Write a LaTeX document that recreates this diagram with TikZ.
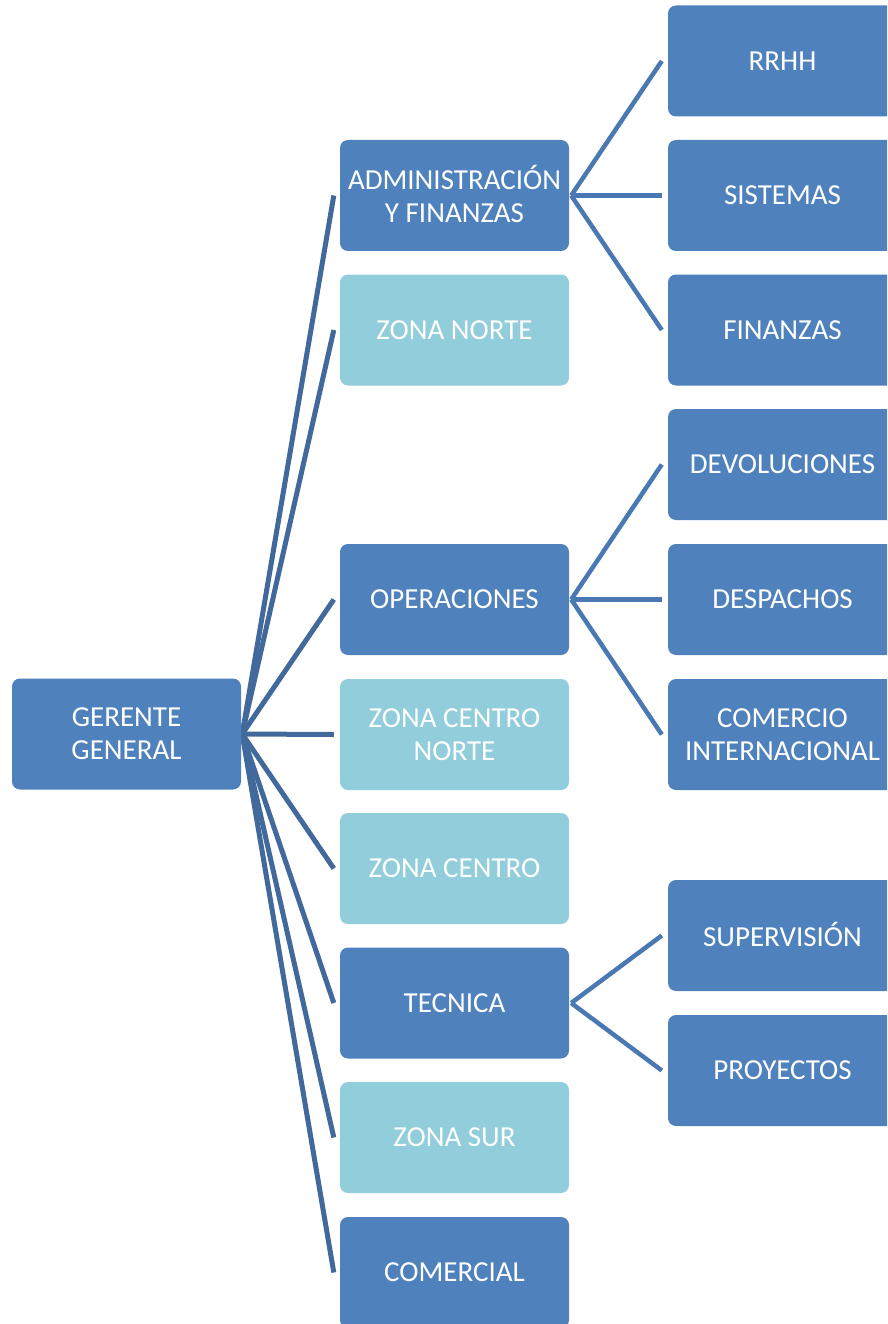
\documentclass[tikz,border=0pt]{standalone}
\usepackage{fontspec}
\setmainfont{Carlito}
\usetikzlibrary{calc,backgrounds}
\definecolor{boxdark}{HTML}{4F81BD}
\definecolor{boxlight}{HTML}{92CDDC}
\definecolor{lineleft}{HTML}{41699C}
\definecolor{lineright}{HTML}{4A78B2}
\tikzset{
  unitbox/.style={minimum width=229pt, minimum height=111pt, rounded corners=8pt,
    text=white, align=center, inner sep=0pt, font=\fontsize{29}{33}\selectfont},
  darkbox/.style={unitbox, fill=boxdark},
  lightbox/.style={unitbox, fill=boxlight},
  leftline/.style={draw=lineleft, line width=5pt},
  rightline/.style={draw=lineright, line width=4.5pt}
}
\begin{document}
\begin{tikzpicture}[x=1pt,y=-1pt]
\clip (0,0) rectangle (887,1324);
\useasboundingbox (0,0) rectangle (887,1324);
% root
\node[darkbox] (root) at (126.5,734) {GERENTE\\GENERAL};
% middle column
\node[darkbox]  (adm) at (454.5,195.5) {\raisebox{3pt}{ADMINISTRACIÓN}\\\raisebox{3pt}{Y FINANZAS}};
\node[lightbox] (zn)  at (454.5,330) {ZONA NORTE};
\node[darkbox]  (ops) at (454.5,599.5) {OPERACIONES};
\node[lightbox] (zcn) at (454.5,734.5) {ZONA CENTRO\\NORTE};
\node[lightbox] (zc)  at (454.5,868.5) {ZONA CENTRO};
\node[darkbox]  (tec) at (454.5,1003) {TECNICA};
\node[lightbox] (zs)  at (454.5,1137.5) {ZONA SUR};
\node[darkbox]  (com) at (454.5,1272.5) {COMERCIAL};
% right column
\node[darkbox] (rrhh) at (782.5,61) {RRHH};
\node[darkbox] (sis)  at (782.5,195.5) {SISTEMAS};
\node[darkbox] (fin)  at (782.5,330) {FINANZAS};
\node[darkbox] (dev)  at (782.5,464.5) {DEVOLUCIONES};
\node[darkbox] (des)  at (782.5,599.5) {DESPACHOS};
\node[darkbox] (ci)   at (782.5,734.5) {COMERCIO\\INTERNACIONAL};
\node[darkbox] (sup)  at (782.5,935.5) {\raisebox{2pt}{SUPERVISIÓN}};
\node[darkbox] (pro)  at (782.5,1070.5) {PROYECTOS};
% end coordinates
\foreach \n in {adm,zn,ops,zcn,zc,tec,zs,com,rrhh,sis,fin,dev,des,ci,sup,pro}
  \coordinate (\n-in) at ($(\n.west)+(-6,0)$);
\coordinate (rootout) at ($(root.east)+(1,0)$);
\coordinate (admout) at ($(adm.east)+(2,0)$);
\coordinate (opsout) at ($(ops.east)+(2,0)$);
\coordinate (tecout) at ($(tec.east)+(2,0)$);
\begin{scope}[on background layer]
\foreach \n in {adm,zn,ops,zcn,zc,tec,zs,com}
  \draw[leftline] (rootout) -- (\n-in);
\foreach \n in {rrhh,sis,fin}
  \draw[rightline] (admout) -- (\n-in);
\foreach \n in {dev,des,ci}
  \draw[rightline] (opsout) -- (\n-in);
\foreach \n in {sup,pro}
  \draw[rightline] (tecout) -- (\n-in);
\end{scope}
\end{tikzpicture}
\end{document}
